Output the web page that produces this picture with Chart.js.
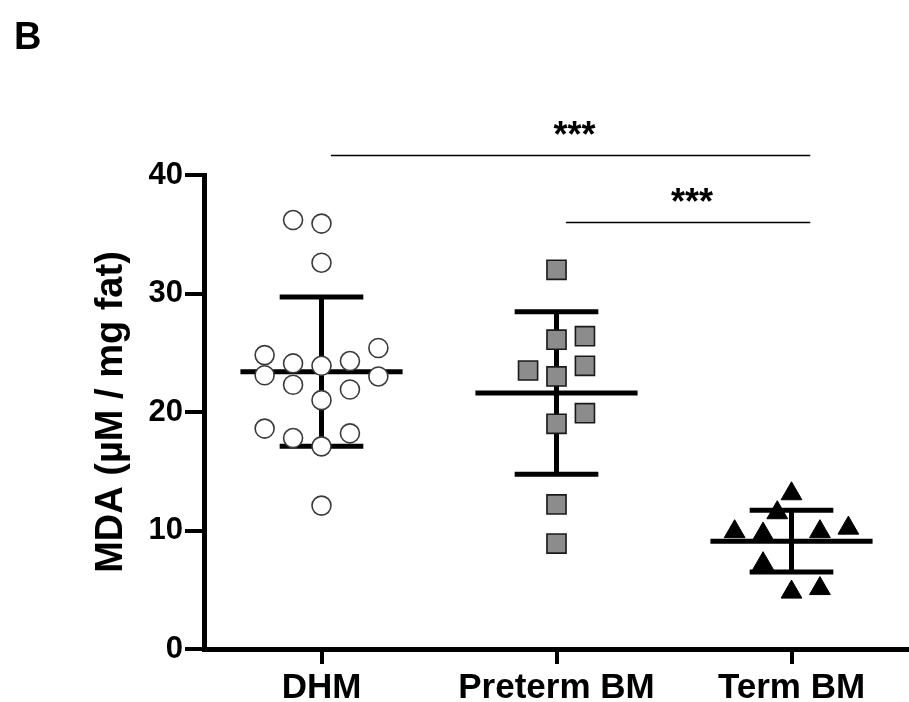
<!DOCTYPE html>
<html>
<head>
<meta charset="utf-8">
<script src="https://cdn.jsdelivr.net/npm/chart.js@4.4.0/dist/chart.umd.min.js"></script>
<style>
  html, body { margin: 0; padding: 0; background: #ffffff; }
  #wrap { width: 909px; height: 702px; }
</style>
</head>
<body>
<div id="wrap"><canvas id="c" width="909" height="702"></canvas></div>
<script>
// ---------------- data ----------------
const categories = ['DHM', 'Preterm BM', 'Term BM'];

const dhmValues = [36.2, 35.9, 32.6, 24.8, 25.4, 24.1, 23.9, 24.3, 23.1, 23.0, 22.3, 21.9, 21.0, 18.6, 17.8, 18.2, 17.1, 12.1];
const dhmLanes  = [-1, 0, 0, -2, 2, -1, 0, 1, -2, 2, -1, 1, 0, -2, -1, 1, 0, 0];

const pretermValues = [32.0, 26.1, 26.4, 23.9, 23.5, 23.0, 19.9, 19.0, 12.2, 8.9];
const pretermLanes  = [0, 0, 1, 1, -1, 0, 1, 0, 0, 0];

const termValues = [13.1, 11.5, 9.9, 9.7, 9.9, 10.2, 7.2, 4.8, 5.1];
const termLanes  = [0, -0.5, -2, -1, 1, 2, -1, 0, 1];

const groupMeans = [23.4, 21.6, 9.1];
const groupSDs   = [6.3, 6.85, 2.6];

const yTicks = [0, 10, 20, 30, 40];
const yTitle = 'MDA (µM / mg fat)';
const panelLabel = 'B';
const comparisons = [
  { from: 1, to: 3, label: '***' },
  { from: 2, to: 3, label: '***' }
];

// ---------------- layout / style constants ----------------
const FONT = '"Liberation Sans", Arial, Helvetica, sans-serif';
const LANE_STEP = 0.121;
const MEAN_HALF = 0.345;
const CAP_HALF = 0.178;
const BRACKET_START = 0.04;
const BRACKET_END = 0.08;
const bracketLevels = [41.7, 36.0];

function pts(values, lanes, groupIndex) {
  return values.map((v, i) => ({ x: groupIndex + 1 + lanes[i] * LANE_STEP, y: v }));
}

function errorBarData(i) {
  const m = groupMeans[i], s = groupSDs[i], c = i + 1;
  return [
    { x: c - MEAN_HALF, y: m }, { x: c + MEAN_HALF, y: m }, { x: c, y: null },
    { x: c - CAP_HALF, y: m + s }, { x: c + CAP_HALF, y: m + s }, { x: c, y: null },
    { x: c - CAP_HALF, y: m - s }, { x: c + CAP_HALF, y: m - s }, { x: c, y: null },
    { x: c, y: m + s }, { x: c, y: m - s }
  ];
}

const errDatasets = categories.map((name, i) => ({
  label: name + ' mean ± SD',
  data: errorBarData(i),
  showLine: true,
  spanGaps: false,
  borderColor: '#000',
  borderWidth: 5,
  borderCapStyle: 'butt',
  pointRadius: 0,
  pointHoverRadius: 0,
  order: 2
}));

const annot = {
  id: 'annot',
  afterDraw(chart) {
    const { ctx, scales: { x, y } } = chart;
    ctx.save();
    ctx.fillStyle = '#000';
    ctx.font = 'bold 38px ' + FONT;
    ctx.textAlign = 'left';
    ctx.textBaseline = 'alphabetic';
    ctx.fillText(panelLabel, 14, 49);

    comparisons.forEach((c, k) => {
      const x1 = x.getPixelForValue(c.from + BRACKET_START);
      const x2 = x.getPixelForValue(c.to + BRACKET_END);
      const yy = Math.round(y.getPixelForValue(bracketLevels[k])) + 0.5;
      ctx.strokeStyle = '#000';
      ctx.lineWidth = 1.5;
      ctx.beginPath();
      ctx.moveTo(x1, yy);
      ctx.lineTo(x2, yy);
      ctx.stroke();
      ctx.font = 'bold 36px ' + FONT;
      ctx.textAlign = 'center';
      ctx.fillText(c.label, (x1 + x2) / 2 + 4, yy - 9);
    });
    ctx.restore();
  }
};

new Chart(document.getElementById('c'), {
  type: 'scatter',
  data: {
    datasets: [
      {
        label: categories[0],
        data: pts(dhmValues, dhmLanes, 0),
        pointStyle: 'circle',
        pointRadius: 9.5,
        pointHoverRadius: 9.5,
        backgroundColor: '#ffffff',
        borderColor: '#3a3a3a',
        borderWidth: 1.6,
        order: 0
      },
      {
        label: categories[1],
        data: pts(pretermValues, pretermLanes, 1),
        pointStyle: 'rect',
        pointRadius: 13.5,
        pointHoverRadius: 13.5,
        backgroundColor: '#8c8c8c',
        borderColor: '#1a1a1a',
        borderWidth: 1.6,
        order: 0
      },
      {
        label: categories[2],
        data: pts(termValues, termLanes, 2),
        pointStyle: 'triangle',
        pointRadius: 12,
        pointHoverRadius: 12,
        backgroundColor: '#000',
        borderColor: '#000',
        borderWidth: 1,
        order: 0
      },
      ...errDatasets
    ]
  },
  options: {
    responsive: false,
    animation: false,
    events: [],
    layout: { autoPadding: false, padding: { top: 175, left: 0, right: 0, bottom: 0 } },
    plugins: {
      legend: { display: false },
      tooltip: { enabled: false },
      title: { display: false }
    },
    scales: {
      x: {
        type: 'linear',
        min: 0.5,
        max: 3.5,
        afterBuildTicks(s) { s.ticks = categories.map((c, i) => ({ value: i + 1 })); },
        afterFit(s) { s.height = 53; },
        ticks: {
          color: '#000',
          padding: 3,
          maxRotation: 0,
          autoSkip: false,
          font: { family: FONT, size: 35, weight: 'bold' },
          callback: (v) => categories[Math.round(v) - 1]
        },
        grid: { display: true, drawOnChartArea: false, drawTicks: true, tickLength: 15, lineWidth: 4, color: '#000' },
        border: { display: true, width: 5, color: '#000' }
      },
      y: {
        type: 'linear',
        min: 0,
        max: 40,
        afterBuildTicks(s) { s.ticks = yTicks.map(v => ({ value: v })); },
        afterFit(s) { s.width = 204; },
        ticks: {
          color: '#000',
          padding: 2,
          font: { family: FONT, size: 31, weight: 'bold' }
        },
        grid: { display: true, drawOnChartArea: false, drawTicks: true, tickLength: 19, lineWidth: 4, color: '#000' },
        border: { display: true, width: 5, color: '#000' },
        title: {
          display: true,
          text: yTitle,
          color: '#000',
          font: { family: FONT, size: 38, weight: 'bold' },
          padding: { top: 89, bottom: 0 }
        }
      }
    }
  },
  plugins: [annot]
});
</script>
</body>
</html>
